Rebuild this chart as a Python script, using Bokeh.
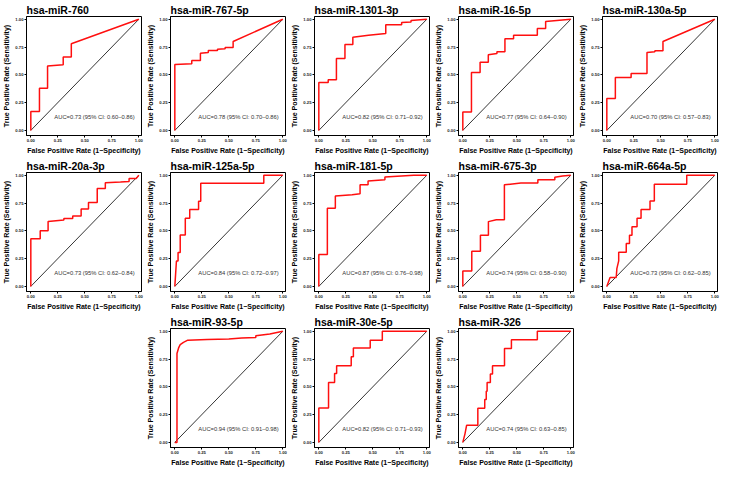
from bokeh.plotting import figure
from bokeh.models import Range1d, FixedTicker, PrintfTickFormatter, Spacer
from bokeh.layouts import column, row
from bokeh.core.properties import value
from bokeh.embed import file_html
from bokeh.resources import INLINE

# ---------------- data ----------------
titles = ["hsa-miR-760", "hsa-miR-767-5p", "hsa-miR-1301-3p", "hsa-miR-16-5p", "hsa-miR-130a-5p",
          "hsa-miR-20a-3p", "hsa-miR-125a-5p", "hsa-miR-181-5p", "hsa-miR-675-3p", "hsa-miR-664a-5p",
          "hsa-miR-93-5p", "hsa-miR-30e-5p", "hsa-miR-326"]

auc_labels = ["AUC=0.73 (95% CI: 0.60–0.86)", "AUC=0.78 (95% CI: 0.70–0.86)",
              "AUC=0.82 (95% CI: 0.71–0.92)", "AUC=0.77 (95% CI: 0.64–0.90)",
              "AUC=0.70 (95% CI: 0.57–0.83)", "AUC=0.73 (95% CI: 0.62–0.84)",
              "AUC=0.84 (95% CI: 0.72–0.97)", "AUC=0.87 (95% CI: 0.76–0.98)",
              "AUC=0.74 (95% CI: 0.58–0.90)", "AUC=0.73 (95% CI: 0.62–0.85)",
              "AUC=0.94 (95% CI: 0.91–0.98)", "AUC=0.82 (95% CI: 0.71–0.93)",
              "AUC=0.74 (95% CI: 0.63–0.85)"]

fpr_760 = [0, 0, 0.08, 0.08, 0.155, 0.155, 0.30, 0.30, 0.375, 0.375, 1.0]
tpr_760 = [0, 0.17, 0.17, 0.38, 0.38, 0.58, 0.59, 0.66, 0.66, 0.78, 1.0]

fpr_767 = [0, 0, 0.157, 0.157, 0.237, 0.237, 0.31, 0.31, 0.395, 0.395, 0.466, 0.466, 0.54, 0.54, 1.0]
tpr_767 = [0, 0.594, 0.60, 0.628, 0.628, 0.695, 0.70, 0.718, 0.72, 0.73, 0.735, 0.746, 0.746, 0.80, 1.0]

fpr_1301 = [0, 0, 0.087, 0.087, 0.163, 0.163, 0.242, 0.242, 0.315, 0.315, 0.46, 0.62, 0.62, 0.767, 0.767, 0.854, 0.854, 1.0]
tpr_1301 = [0, 0.43, 0.43, 0.455, 0.455, 0.648, 0.648, 0.772, 0.772, 0.839, 0.856, 0.873, 0.95, 0.95, 0.97, 0.975, 0.988, 1.0]

fpr_16 = [0, 0, 0.08, 0.08, 0.16, 0.16, 0.236, 0.236, 0.316, 0.316, 0.39, 0.39, 0.47, 0.47, 0.69, 0.69, 0.767, 0.767, 1.0]
tpr_16 = [0, 0.166, 0.166, 0.52, 0.52, 0.613, 0.613, 0.68, 0.693, 0.708, 0.708, 0.825, 0.825, 0.857, 0.857, 0.917, 0.917, 0.98, 1.0]

fpr_130a = [0, 0, 0.079, 0.079, 0.225, 0.225, 0.372, 0.372, 0.445, 0.445, 0.52, 0.52, 1.0]
tpr_130a = [0, 0.287, 0.287, 0.477, 0.477, 0.511, 0.511, 0.70, 0.707, 0.716, 0.716, 0.80, 1.0]

fpr_20a = [0, 0, 0.087, 0.087, 0.16, 0.16, 0.306, 0.306, 0.388, 0.388, 0.466, 0.466, 0.534, 0.534,
           0.615, 0.615, 0.69, 0.69, 0.83, 0.91, 0.91, 0.977, 1.0]
tpr_20a = [0, 0.429, 0.429, 0.50, 0.50, 0.585, 0.597, 0.61, 0.61, 0.634, 0.634, 0.696, 0.696, 0.756,
           0.756, 0.881, 0.881, 0.932, 0.94, 0.945, 0.972, 0.972, 1.0]

fpr_125a = [0, 0.015, 0.03, 0.03, 0.05, 0.05, 0.097, 0.097, 0.138, 0.138, 0.22, 0.22, 0.24, 0.24, 0.824, 0.824, 1.0]
tpr_125a = [0, 0.229, 0.229, 0.306, 0.306, 0.463, 0.463, 0.614, 0.614, 0.691, 0.691, 0.766, 0.766, 0.929, 0.929, 1.0, 1.0]

fpr_181 = [0, 0, 0.079, 0.079, 0.153, 0.153, 0.309, 0.382, 0.382, 0.456, 0.456, 0.612, 0.612, 0.88, 1.0]
tpr_181 = [0, 0.287, 0.287, 0.704, 0.704, 0.813, 0.825, 0.833, 0.914, 0.914, 0.948, 0.96, 0.985, 1.0, 1.0]

fpr_675 = [0, 0, 0.083, 0.083, 0.163, 0.163, 0.237, 0.237, 0.31, 0.385, 0.385, 0.459, 0.538, 0.695, 0.695,
           0.852, 0.852, 0.923, 1.0]
tpr_675 = [0, 0.138, 0.138, 0.316, 0.316, 0.46, 0.46, 0.583, 0.60, 0.60, 0.914, 0.922, 0.93, 0.93, 0.96,
           0.96, 0.983, 0.994, 1.0]

fpr_664a = [0, 0.03, 0.087, 0.093, 0.11, 0.11, 0.18, 0.18, 0.21, 0.21, 0.233, 0.233, 0.28, 0.28, 0.317,
            0.317, 0.40, 0.40, 0.44, 0.44, 0.74, 0.74, 1.0]
tpr_664a = [0, 0.08, 0.08, 0.16, 0.23, 0.308, 0.308, 0.385, 0.385, 0.46, 0.46, 0.536, 0.536, 0.613, 0.613,
            0.692, 0.692, 0.769, 0.769, 0.92, 0.92, 1.0, 1.0]

fpr_93 = [0, 0.02, 0.02, 0.035, 0.05, 0.08, 0.12, 0.30, 0.50, 0.62, 0.75, 0.75, 0.88, 1.0]
tpr_93 = [0, 0, 0.80, 0.85, 0.88, 0.90, 0.92, 0.925, 0.93, 0.94, 0.945, 0.96, 0.975, 1.0]

fpr_30e = [0, 0, 0.09, 0.09, 0.146, 0.146, 0.165, 0.165, 0.30, 0.30, 0.32, 0.32, 0.476, 0.476, 0.588, 0.588, 1.0]
tpr_30e = [0, 0.31, 0.31, 0.54, 0.54, 0.62, 0.62, 0.69, 0.69, 0.77, 0.77, 0.85, 0.85, 0.92, 0.92, 1.0, 1.0]

fpr_326 = [0, 0.02, 0.035, 0.139, 0.139, 0.203, 0.203, 0.217, 0.217, 0.225, 0.225, 0.255, 0.255, 0.275,
           0.275, 0.386, 0.386, 0.45, 0.45, 0.69, 0.69, 1.0]
tpr_326 = [0, 0.077, 0.154, 0.154, 0.308, 0.308, 0.385, 0.385, 0.46, 0.46, 0.54, 0.54, 0.615, 0.615,
           0.69, 0.69, 0.846, 0.846, 0.923, 0.923, 1.0, 1.0]

curves_fpr = [fpr_760, fpr_767, fpr_1301, fpr_16, fpr_130a, fpr_20a, fpr_125a, fpr_181, fpr_675,
              fpr_664a, fpr_93, fpr_30e, fpr_326]
curves_tpr = [tpr_760, tpr_767, tpr_1301, tpr_16, tpr_130a, tpr_20a, tpr_125a, tpr_181, tpr_675,
              tpr_664a, tpr_93, tpr_30e, tpr_326]

tick_values = [0.0, 0.25, 0.5, 0.75, 1.0]
diag = [0.0, 1.0]
auc_x = [0.59]
auc_y = [0.12]

# ---------------- style ----------------
FONT = "Liberation Sans"
W, H = 144, 156


def make_panel(title, fpr, tpr, auc):
    p = figure(width=W, height=H, output_backend="svg", toolbar_location=None,
               x_range=Range1d(-0.04, 1.025), y_range=Range1d(-0.046, 1.025))
    p.min_border = 0
    p.min_border_left = 0
    p.min_border_right = 3
    p.min_border_top = 0
    p.min_border_bottom = 0
    p.title.text = title
    p.title.text_font = FONT
    p.title.text_font_size = "10.5px"
    p.title.text_font_style = "bold"
    p.title.text_color = "black"
    p.title.align = "left"
    p.title.offset = 0
    p.title.standoff = 2

    p.xgrid.visible = False
    p.ygrid.visible = False
    p.outline_line_color = "black"
    p.outline_line_width = 1
    p.outline_line_alpha = 1
    p.background_fill_color = "white"
    p.border_fill_color = "white"

    p.line(diag, diag, line_color="black", line_width=0.8)
    p.line(fpr, tpr, line_color="#ff0f0f", line_width=1.5)
    p.text(x=auc_x, y=auc_y, text=[auc], text_align="center", text_baseline="middle",
           text_font=value(FONT), text_font_size="5.8px", text_color="#333333")

    p.xaxis.axis_label = "False Positive Rate (1\u2212Specificity)"
    p.yaxis.axis_label = "True Positive Rate (Sensitivity)"
    for ax in (p.xaxis[0], p.yaxis[0]):
        ax.ticker = FixedTicker(ticks=tick_values)
        ax.formatter = PrintfTickFormatter(format="%.2f")
        ax.axis_label_text_font = FONT
        ax.axis_label_text_font_size = "7px"
        ax.axis_label_text_font_style = "bold"
        ax.axis_label_text_color = "black"
        ax.axis_label_standoff = 2
        ax.major_label_text_font = FONT
        ax.major_label_text_font_size = "4.2px"
        ax.major_label_text_font_style = "bold"
        ax.major_label_text_color = "#222222"
        ax.major_label_standoff = 1
        ax.major_tick_out = 2
        ax.major_tick_in = 0
        ax.minor_tick_out = 0
        ax.minor_tick_in = 0
        ax.axis_line_color = "black"
        ax.major_tick_line_color = "black"
    return p


panels = [make_panel(t, f, s, a) for t, f, s, a in zip(titles, curves_fpr, curves_tpr, auc_labels)]

layout = column(
    row(*panels[0:5]),
    row(*panels[5:10]),
    row(Spacer(width=W, height=H), *panels[10:13]),
)

open("out.html", "w").write(file_html(layout, INLINE))
